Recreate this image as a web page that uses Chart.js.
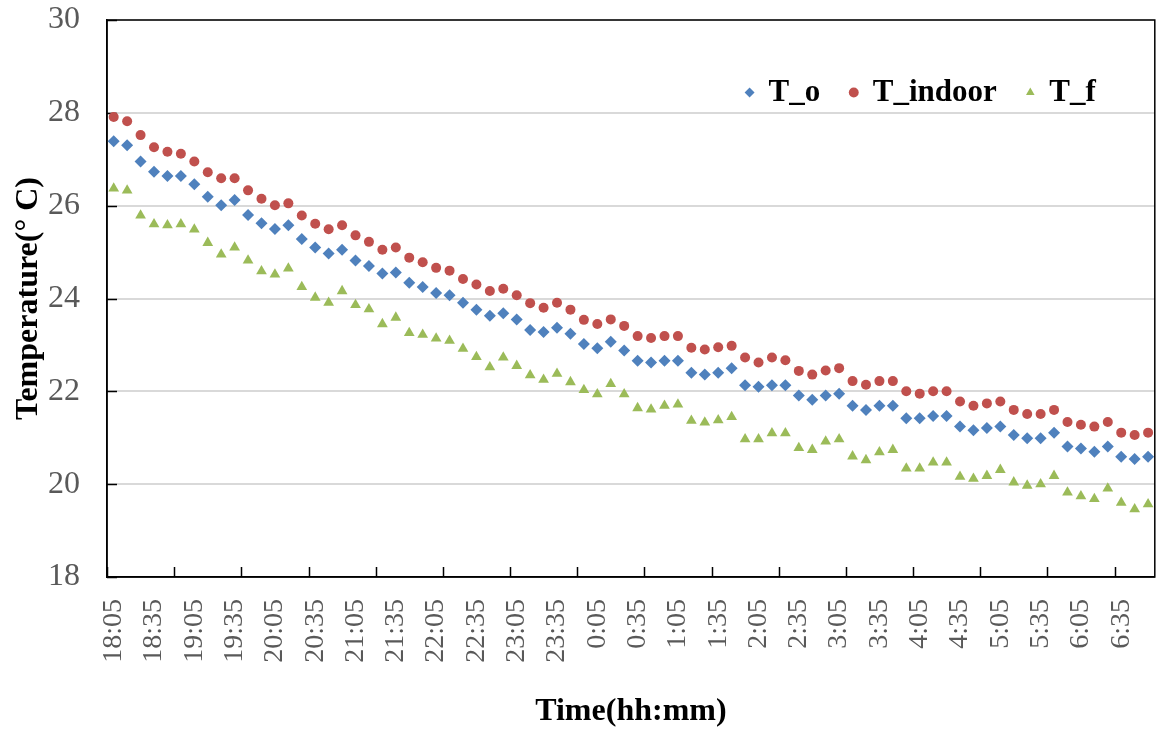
<!DOCTYPE html>
<html>
<head>
<meta charset="utf-8">
<script src="https://cdn.jsdelivr.net/npm/chart.js@4.4.1/dist/chart.umd.min.js"></script>
<style>
html,body{margin:0;padding:0;background:#ffffff;}
#wrap{width:1161px;height:731px;position:relative;}
</style>
</head>
<body>
<div id="wrap"><canvas id="c" width="1161" height="731"></canvas></div>
<script>
const timeLabels = [
  "18:05","18:15","18:25","18:35","18:45","18:55",
  "19:05","19:15","19:25","19:35","19:45","19:55",
  "20:05","20:15","20:25","20:35","20:45","20:55",
  "21:05","21:15","21:25","21:35","21:45","21:55",
  "22:05","22:15","22:25","22:35","22:45","22:55",
  "23:05","23:15","23:25","23:35","23:45","23:55",
  "0:05","0:15","0:25","0:35","0:45","0:55",
  "1:05","1:15","1:25","1:35","1:45","1:55",
  "2:05","2:15","2:25","2:35","2:45","2:55",
  "3:05","3:15","3:25","3:35","3:45","3:55",
  "4:05","4:15","4:25","4:35","4:45","4:55",
  "5:05","5:15","5:25","5:35","5:45","5:55",
  "6:05","6:15","6:25","6:35","6:45","6:55"
];

const T_o = [
  27.39,27.30,26.95,26.73,26.64,26.64,26.46,26.19,26.01,26.12,
  25.80,25.62,25.50,25.58,25.28,25.10,24.97,25.05,24.82,24.70,
  24.54,24.56,24.34,24.25,24.12,24.07,23.91,23.76,23.63,23.68,
  23.55,23.32,23.28,23.37,23.24,23.02,22.93,23.07,22.88,22.66,
  22.62,22.66,22.66,22.40,22.36,22.40,22.50,22.13,22.10,22.13,
  22.13,21.91,21.82,21.91,21.95,21.69,21.60,21.69,21.69,21.42,
  21.42,21.47,21.47,21.24,21.16,21.21,21.24,21.06,20.99,20.99,
  21.11,20.81,20.77,20.70,20.81,20.59,20.54,20.59
];

const T_indoor = [
  27.91,27.82,27.52,27.26,27.16,27.12,26.95,26.72,26.59,26.59,
  26.33,26.15,26.01,26.05,25.79,25.61,25.49,25.58,25.36,25.22,
  25.05,25.10,24.88,24.78,24.66,24.60,24.42,24.30,24.16,24.21,
  24.07,23.90,23.80,23.91,23.76,23.54,23.45,23.55,23.41,23.19,
  23.15,23.19,23.19,22.94,22.90,22.95,22.98,22.73,22.62,22.73,
  22.67,22.44,22.36,22.45,22.50,22.22,22.14,22.22,22.22,22.00,
  21.95,22.00,22.00,21.78,21.69,21.74,21.78,21.60,21.51,21.51,
  21.60,21.34,21.28,21.24,21.34,21.11,21.06,21.11
];

const T_f = [
  26.37,26.33,25.79,25.60,25.58,25.60,25.49,25.20,24.95,25.10,
  24.82,24.59,24.52,24.65,24.25,24.02,23.91,24.16,23.86,23.77,
  23.45,23.59,23.26,23.22,23.14,23.09,22.92,22.74,22.52,22.73,
  22.55,22.35,22.25,22.38,22.20,22.03,21.94,22.16,21.94,21.64,
  21.61,21.69,21.72,21.37,21.33,21.38,21.45,20.97,20.97,21.10,
  21.10,20.78,20.74,20.92,20.97,20.60,20.52,20.69,20.74,20.34,
  20.34,20.47,20.47,20.16,20.12,20.18,20.31,20.04,19.97,20.00,
  20.18,19.82,19.74,19.68,19.91,19.60,19.46,19.57
];

const yMin = 18, yMax = 30, yStep = 2;
const labelEvery = 3;      // show every 3rd time label
const tickMarkEvery = 5;   // inner tick mark every 5 categories

const SERIF = "'Liberation Serif', 'Times New Roman', serif";

// legend laid out horizontally inside the plot (top-right), plot frame and inward tick marks
const framePlugin = {
  id: 'frame',
  beforeLayout(chart) {
    const lg = chart.legend;
    if (lg && !lg._forcedHorizontal) {
      lg.isHorizontal = () => true;
      lg._forcedHorizontal = true;
    }
  },
  afterLayout(chart) {
    const lg = chart.legend, a = chart.chartArea;
    if (lg) {
      lg.left = a.left;
      lg.right = a.right - 29;
      lg.top = a.top + 27;
      lg.bottom = lg.top + lg.height + 25;
    }
  },
  beforeDatasetsDraw(chart) {
    const {ctx, chartArea: a, scales} = chart;
    ctx.save();
    ctx.strokeStyle = '#000000';
    ctx.lineWidth = 1.5;
    ctx.strokeRect(a.left, a.top, a.right - a.left, a.bottom - a.top);
    ctx.beginPath();
    scales.y.ticks.forEach(t => {
      const py = Math.round(scales.y.getPixelForValue(t.value)) + 0.5;
      ctx.moveTo(a.left, py); ctx.lineTo(a.left + 10, py);
    });
    const n = timeLabels.length;
    const half = (scales.x.getPixelForValue(1) - scales.x.getPixelForValue(0)) / 2;
    for (let i = 0; i < n; i += tickMarkEvery) {
      const px = Math.round(scales.x.getPixelForValue(i) - half) + 0.5;
      ctx.moveTo(px, a.bottom); ctx.lineTo(px, a.bottom - 10);
    }
    ctx.stroke();
    ctx.restore();
  }
};

new Chart(document.getElementById('c'), {
  type: 'line',
  data: {
    labels: timeLabels,
    datasets: [
      { label: 'T_o', data: T_o, showLine: false, pointStyle: 'rectRot',
        pointRadius: 6, pointHoverRadius: 6, pointBorderWidth: 0,
        backgroundColor: '#4F81BD', borderColor: '#4F81BD', pointBackgroundColor: '#4F81BD' },
      { label: 'T_indoor', data: T_indoor, showLine: false, pointStyle: 'circle',
        pointRadius: 5, pointHoverRadius: 5, pointBorderWidth: 0,
        backgroundColor: '#C0504D', borderColor: '#C0504D', pointBackgroundColor: '#C0504D' },
      { label: 'T_f', data: T_f, showLine: false, pointStyle: 'triangle',
        pointRadius: 6.2, pointHoverRadius: 6.2, pointBorderWidth: 0,
        backgroundColor: '#9BBB59', borderColor: '#9BBB59', pointBackgroundColor: '#9BBB59' }
    ]
  },
  options: {
    responsive: false,
    animation: false,
    devicePixelRatio: 1,
    layout: { padding: { left: 4, right: 2, top: 0, bottom: 0 } },
    plugins: {
      tooltip: { enabled: false },
      legend: {
        position: 'chartArea',
        align: 'end',
        labels: {
          usePointStyle: true,
          boxWidth: 7,
          boxHeight: 7,
          padding: 30,
          color: '#000000',
          font: { family: SERIF, size: 31, weight: 'bold' }
        }
      }
    },
    scales: {
      x: {
        type: 'category',
        offset: true,
        grid: { display: false, drawTicks: false },
        border: { display: true, color: '#000000', width: 1.5 },
        ticks: {
          autoSkip: false,
          maxRotation: 90,
          minRotation: 90,
          padding: 22,
          color: '#595959',
          font: { family: SERIF, size: 28 },
          callback: function(value, index) {
            return index % labelEvery === 0 ? timeLabels[index] : '';
          }
        },
        title: {
          display: true,
          text: 'Time(hh:mm)',
          color: '#000000',
          font: { family: SERIF, size: 32, weight: 'bold' },
          padding: { top: 10, bottom: 0 }
        },
        afterFit(scale) {
          scale.height = 154;
          scale.paddingLeft = 0;
          scale.paddingRight = 0;
        }
      },
      y: {
        min: yMin,
        max: yMax,
        grid: { color: '#D9D9D9', lineWidth: 2, drawTicks: false },
        border: { display: true, color: '#000000', width: 1.5 },
        ticks: {
          stepSize: yStep,
          padding: 27,
          color: '#595959',
          font: { family: SERIF, size: 32 }
        },
        title: {
          display: true,
          text: 'Temperature(° C)',
          color: '#000000',
          font: { family: SERIF, size: 32, weight: 'bold', lineHeight: 1.1 },
          padding: { top: 7, bottom: 0 }
        },
        afterFit(scale) {
          scale.width = 103;
          scale.paddingTop = 20;
          scale.paddingBottom = 0;
        }
      }
    }
  },
  plugins: [framePlugin]
});
</script>
</body>
</html>
